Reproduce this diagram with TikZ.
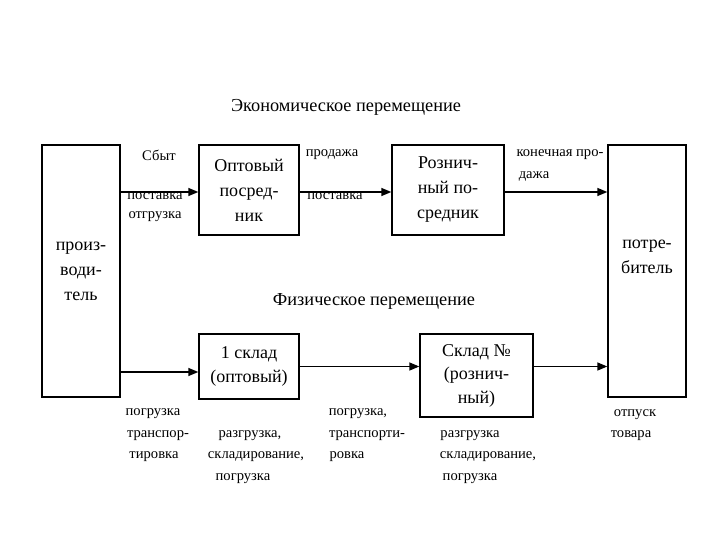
\documentclass[tikz,border=0pt]{standalone}
\usepackage{fontspec}
\setmainfont{Liberation Serif}
\usetikzlibrary{arrows.meta}
\begin{document}
\begin{tikzpicture}[x=1pt,y=-1pt,
  box/.style={draw,line width=1.4pt,inner sep=0pt,align=center,font=\fontsize{18}{25}\selectfont},
  big/.style={inner sep=0pt,align=center,font=\fontsize{18}{25}\selectfont},
  title/.style={inner sep=0pt,font=\fontsize{18.3}{20}\selectfont},
  lbl/.style={inner sep=0pt,align=left,font=\fontsize{14.6}{20}\selectfont},
  arr/.style={line width=1.5pt,-{Triangle[length=10pt,width=8pt]}}]
\useasboundingbox (0,0) rectangle (720,540);
\fill[white] (0,0) rectangle (720,540);
% titles
\node[title] (t1) at (346,107) {Экономическое перемещение};
\node[title] (t2) at (374,301) {Физическое перемещение};
% boxes
\node[box,minimum width=78pt,minimum height=252pt] (prod) at (81,271) {произ-\\води-\\тель};
\node[box,minimum width=100pt,minimum height=90pt] (opt) at (249,190) {Оптовый\\посред-\\ник};
\node[box,minimum width=112pt,minimum height=90pt] (ret) at (448,190) {Рознич-\\ный по-\\средник};
\node[box,minimum width=78pt,minimum height=252pt] (cons) at (647,271) {};
\node[big] (constext) at (647,257) {потре-\\битель};
\node[box,minimum width=100pt,minimum height=65pt,font=\fontsize{18}{24}\selectfont] (wa) at (249,366.5) {1 склад\\(оптовый)};
\node[box,minimum width=113pt,minimum height=83pt,font=\fontsize{18}{23.5}\selectfont] (wb) at (476.5,375.5) {Склад №\\(рознич-\\ный)};
% arrows
\draw[arr] ([yshift=-2pt]prod.east |- opt.west) -- ([yshift=-2pt]opt.west);
\draw[arr] ([yshift=-2pt]opt.east) -- ([yshift=-2pt]ret.west);
\draw[arr] ([yshift=-2pt]ret.east) -- ([yshift=-2pt]cons.west |- ret.east);
\draw[arr] ([yshift=-5.5pt]prod.east |- wa.west) -- ([yshift=-5.5pt]wa.west);
\draw[arr] (wa.east) -- (wb.west |- wa.east);
\draw[arr] (wb.east |- wa.east) -- (cons.west |- wa.east);
% labels top
\node[lbl] (l1) at (159,155) {Сбыт};
\node[lbl] (l2) at (155,196) {поставка};
\node[lbl] (l3) at (155,217) {отгрузка};
\node[lbl] (l4) at (332,155) {продажа};
\node[lbl] (l5) at (335,196) {поставка};
\node[lbl] (l6) at (560,155) {конечная про-};
\node[lbl] (l7) at (534,176) {дажа};
% labels bottom
\node[lbl] (b1) at (153,414) {погрузка};
\node[lbl] (b2) at (158,436) {транспор-};
\node[lbl] (b3) at (154,457) {тировка};
\node[lbl] (b4) at (250,436) {разгрузка,};
\node[lbl] (b5) at (256,457) {складирование,};
\node[lbl] (b6) at (243,479) {погрузка};
\node[lbl] (b7) at (358,414) {погрузка,};
\node[lbl] (b8) at (367,436) {транспорти-};
\node[lbl] (b9) at (347,457) {ровка};
\node[lbl] (b10) at (470,436) {разгрузка};
\node[lbl] (b11) at (488,457) {складирование,};
\node[lbl] (b12) at (470,479) {погрузка};
\node[lbl] (b13) at (635,415) {отпуск};
\node[lbl] (b14) at (631,436) {товара};
\end{tikzpicture}
\end{document}
